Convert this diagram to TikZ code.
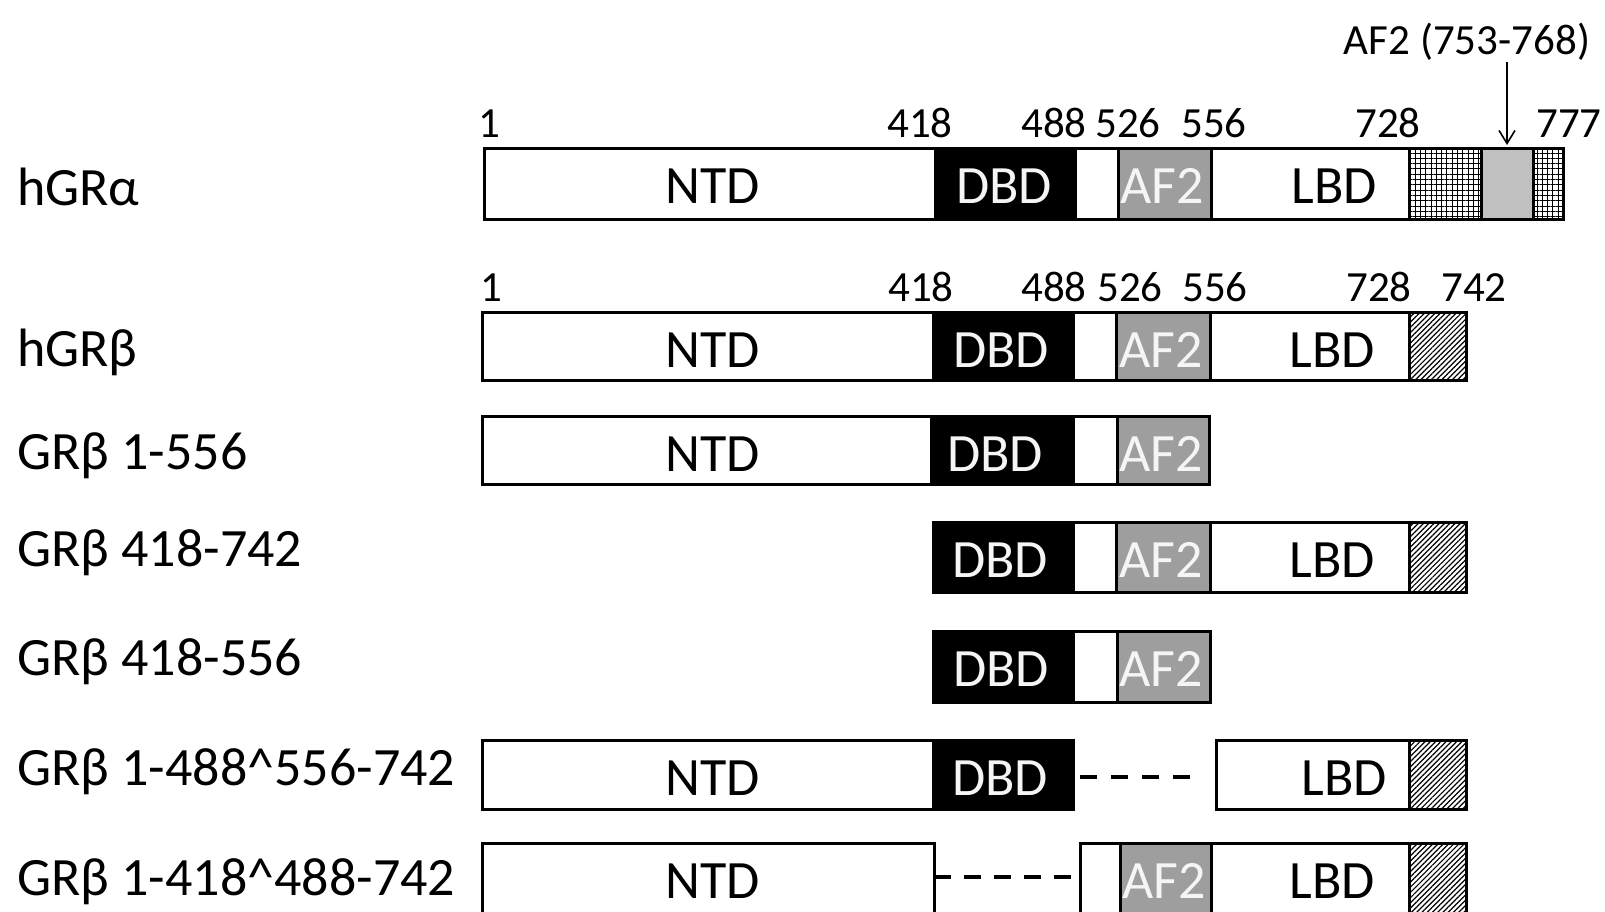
\documentclass[tikz,border=0pt]{standalone}
\usepackage{fontspec}
\setmainfont{Carlito}
\usetikzlibrary{patterns.meta,arrows.meta,calc}
\definecolor{afgray}{RGB}{158,158,158}
\definecolor{lightg}{RGB}{192,192,192}
\definecolor{offwhite}{RGB}{245,245,245}
\newcommand\dom[6]{%
  \node[segbox,#6,minimum width={(#3-#2)*1pt},minimum height={(#5-#4)*1pt}] (#1) at ({(#2+#3)/2},{(#4+#5)/2}) {};}
\tikzset{
  segbox/.style={draw=black,line width=3pt,inner sep=0pt,outer sep=0pt,rectangle},
  wseg/.style={fill=white},
  dseg/.style={fill=black},
  aseg/.style={fill=afgray},
  cseg/.style={fill=lightg},
  lseg/.style={pattern={Lines[angle=45,distance=3.7pt,line width=1.2pt]}},
  gseg/.style={pattern={Hatch[angle=0,distance=5.3pt,line width=1pt]}},
  big/.style={font=\fontsize{54}{60}\selectfont,anchor=base,inner sep=0pt},
  lbl/.style={font=\fontsize{54}{60}\selectfont,anchor=base west,inner sep=0pt},
  num/.style={font=\fontsize{43}{48}\selectfont,anchor=base,inner sep=0pt},
  wtxt/.style={text=offwhite},
  gap/.style={line width=3.5pt}
}
\begin{document}
\begin{tikzpicture}[x=1pt,y=-1pt]
\clip (0,0) rectangle (1605,911);
\fill[white] (0,0) rectangle (1605,911);
% row 1 hGRalpha
\dom{a1}{484}{935}{148}{219}{wseg}
\dom{a2}{935}{1075}{148}{219}{dseg}
\dom{a3}{1075}{1118}{148}{219}{wseg}
\dom{a4}{1118}{1211}{148}{219}{aseg}
\dom{a5}{1211}{1409}{148}{219}{wseg}
\dom{a6}{1409}{1481}{148}{219}{gseg}
\dom{a7}{1481}{1533}{148}{219}{cseg}
\dom{a8}{1533}{1563}{148}{219}{gseg}
% row 2 hGRbeta
\dom{b1}{482}{933}{312}{380}{wseg}
\dom{b2}{933}{1073}{312}{380}{dseg}
\dom{b3}{1073}{1116}{312}{380}{wseg}
\dom{b4}{1116}{1210}{312}{380}{aseg}
\dom{b5}{1210}{1409}{312}{380}{wseg}
\dom{b6}{1409}{1466}{312}{380}{lseg}
% row 3
\dom{c1}{482}{931}{416}{484}{wseg}
\dom{c2}{931}{1073}{416}{484}{dseg}
\dom{c3}{1073}{1117}{416}{484}{wseg}
\dom{c4}{1117}{1209}{416}{484}{aseg}
% row 4
\dom{d1}{933}{1073}{522}{592}{dseg}
\dom{d2}{1073}{1116}{522}{592}{wseg}
\dom{d3}{1116}{1210}{522}{592}{aseg}
\dom{d4}{1210}{1409}{522}{592}{wseg}
\dom{d5}{1409}{1466}{522}{592}{lseg}
% row 5
\dom{e1}{933}{1073}{631}{702}{dseg}
\dom{e2}{1073}{1117}{631}{702}{wseg}
\dom{e3}{1117}{1210}{631}{702}{aseg}
% row 6
\dom{f1}{482}{933}{740}{809}{wseg}
\dom{f2}{933}{1073}{740}{809}{dseg}
\dom{f3}{1216}{1409}{740}{809}{wseg}
\dom{f4}{1409}{1466}{740}{809}{lseg}
% row 7
\dom{g1}{482}{934}{843}{913}{wseg}
\dom{g2}{1080}{1120}{843}{913}{wseg}
\dom{g3}{1120}{1211}{843}{913}{aseg}
\dom{g4}{1211}{1409}{843}{913}{wseg}
\dom{g5}{1409}{1466}{843}{913}{lseg}
% deletion gaps
\coordinate (f-gapend) at (1190,777);
\draw[gap,dash pattern=on 17pt off 14pt] ($(f2.east)+(7,2.5)$) -- (f-gapend);
\draw[gap,dash pattern=on 17pt off 13pt] ($(g1.east)+(0,-1)$) -- ($(g2.west)+(0,-1)$);
% domain texts
\node[big] (ta1) at (713,203) {NTD};
\node[big,wtxt] (ta2) at (1004,203) {DBD};
\node[big,wtxt] (ta4) at (1162,203) {AF2};
\node[big] (ta5) at (1334,203) {LBD};
\node[big] (tb1) at (713,367) {NTD};
\node[big,wtxt] (tb2) at (1001,367) {DBD};
\node[big,wtxt] (tb4) at (1161,367) {AF2};
\node[big] (tb5) at (1332,367) {LBD};
\node[big] (tc1) at (713,471) {NTD};
\node[big,wtxt] (tc2) at (995,471) {DBD};
\node[big,wtxt] (tc4) at (1161,471) {AF2};
\node[big,wtxt] (td1) at (1000,577) {DBD};
\node[big,wtxt] (td3) at (1161,577) {AF2};
\node[big] (td4) at (1332,577) {LBD};
\node[big,wtxt] (te1) at (1001,686) {DBD};
\node[big,wtxt] (te3) at (1161,686) {AF2};
\node[big] (tf1) at (713,795) {NTD};
\node[big,wtxt] (tf2) at (1000,795) {DBD};
\node[big] (tf3) at (1344,795) {LBD};
\node[big] (tg1) at (713,898) {NTD};
\node[big,wtxt] (tg3) at (1164,898) {AF2};
\node[big] (tg4) at (1332,898) {LBD};
% row labels
\node[lbl] (L1) at (17,205) {hGRα};
\node[lbl] (L2) at (17,366) {hGRβ};
\node[lbl] (L3) at (17,469) {GRβ 1-556};
\node[lbl] (L4) at (17,566) {GRβ 418-742};
\node[lbl] (L5) at (17,675) {GRβ 418-556};
\node[lbl] (L6) at (17,785) {GRβ 1-488\^{}556-742};
\node[lbl] (L7) at (17,895) {GRβ 1-418\^{}488-742};
% residue numbers
\node[num] (n11) at (489,137) {1};
\node[num] (n12) at (920,137) {418};
\node[num] (n13) at (1054,137) {488};
\node[num] (n14) at (1128,137) {526};
\node[num] (n15) at (1214,137) {556};
\node[num] (n16) at (1388,137) {728};
\node[num] (n17) at (1569,137) {777};
\node[num] (n21) at (491,301) {1};
\node[num] (n22) at (921,301) {418};
\node[num] (n23) at (1054,301) {488};
\node[num] (n24) at (1130,301) {526};
\node[num] (n25) at (1215,301) {556};
\node[num] (n26) at (1379,301) {728};
\node[num] (n27) at (1474,301) {742};
% AF2 annotation
\node[num] (af2lbl) at (1467,54) {AF2 (753-768)};
\draw[line width=1.6pt,-{Straight Barb[length=13pt,width=16pt,line width=1.6pt]}]
  (af2lbl.south -| a7.north) ++(0,2) -- ($(a7.north)+(0,-3)$);
\end{tikzpicture}
\end{document}
